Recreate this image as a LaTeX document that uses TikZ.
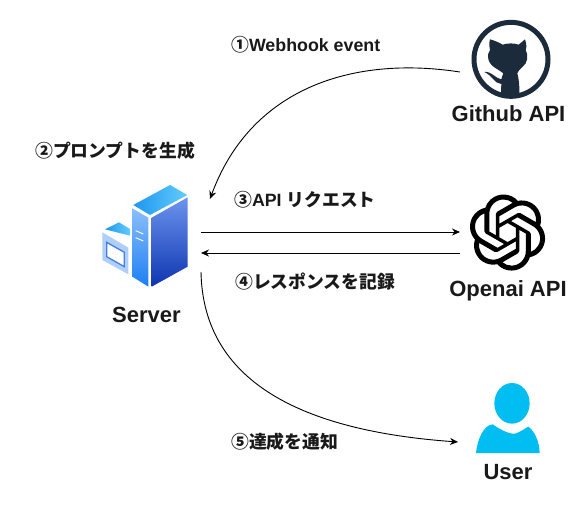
\documentclass[tikz,border=0pt]{standalone}
\usepackage{fontspec}
\setmainfont{Liberation Sans}
\newfontfamily\jpfont{Noto Sans CJK JP}
\usetikzlibrary{svg.path,arrows.meta}
\definecolor{ghdark}{HTML}{1B2B3C}
\definecolor{userblue}{HTML}{00BEF2}
\definecolor{srvtopa}{HTML}{1E96F0}
\definecolor{srvtopb}{HTML}{62CCFB}
\definecolor{srvfronta}{HTML}{8CBEFA}
\definecolor{srvfrontb}{HTML}{1C7FF5}
\definecolor{srvsidea}{HTML}{6C94EE}
\definecolor{srvsideb}{HTML}{0E35B0}
\definecolor{srvsmall}{HTML}{AFCFF8}
\definecolor{srvframe}{HTML}{3F7FE8}
\tikzset{
  iconbox/.style={inner sep=0pt, outer sep=0pt},
  namelabel/.style={font=\bfseries\fontsize{22}{26}\selectfont, text=black!90},
  steplabel/.style={font=\bfseries\fontsize{17.8}{20}\selectfont, text=black!90, inner sep=0pt},
  link/.style={line width=0.9pt, -{Stealth[length=8pt,width=7pt]}},
}
\begin{document}
\begin{tikzpicture}[x=1pt,y=-1pt]
\useasboundingbox (0,0) rectangle (587,506);

\node[iconbox, minimum width=101pt, minimum height=59pt] (server) at (150.5,242.5) {};
\node[iconbox, minimum width=102pt, minimum height=80pt] (github) at (511,60) {};
\node[iconbox, minimum width=95pt, minimum height=80pt] (openai) at (507.5,242.5) {};
\node[iconbox, minimum width=100pt, minimum height=70pt] (user) at (508,425) {};
\coordinate (srvin) at (210,199);

% github
\begin{scope}[shift={(440,10)},scale=1/3]
\draw[ghdark, line width=5pt] (213,148) circle (111);
\fill[ghdark] (150,88) .. controls (165,92) and (178,98) .. (188,104) .. controls (203,99) and (222,99) .. (236,104)
  .. controls (244,98) and (250,92) .. (255,88) .. controls (260,103) and (260,113) .. (257,120)
  .. controls (266,135) and (264,160) .. (246,172) .. controls (240,178) and (234,182) .. (232,190)
  .. controls (236,205) and (239,225) .. (238,255) -- (183,255)
  .. controls (184,240) and (183,230) .. (184,222) .. controls (165,222) and (155,195) .. (133,186)
  .. controls (155,183) and (165,205) .. (184,208) .. controls (186,200) and (188,195) .. (190,190)
  .. controls (182,184) and (176,180) .. (166,174) .. controls (143,160) and (138,135) .. (150,120)
  .. controls (147,110) and (147,100) .. (150,88) -- cycle;
\end{scope}

% openai
\begin{scope}[shift={(469.5,194.5)},scale=3.17,yscale=-1]
\fill[black, even odd rule] (0,0) svg {M 22.2819 9.8211 a 5.9847 5.9847 0 0 0 -.5157 -4.9108 a 6.0462 6.0462 0 0 0 -6.5098 -2.9 A 6.0651 6.0651 0 0 0 4.9807 4.1818 a 5.9847 5.9847 0 0 0 -3.9977 2.9 a 6.0462 6.0462 0 0 0 .7427 7.0966 a 5.98 5.98 0 0 0 .511 4.9107 a 6.051 6.051 0 0 0 6.5146 2.9001 A 5.9847 5.9847 0 0 0 13.2599 24 a 6.0557 6.0557 0 0 0 5.7718 -4.2058 a 5.9894 5.9894 0 0 0 3.9977 -2.9001 a 6.0557 6.0557 0 0 0 -.7475 -7.0729 z
M 13.2599 22.4292 a 4.4755 4.4755 0 0 1 -2.8764 -1.0408 l .1419 -.0804 l 4.7783 -2.7582 a .7948 .7948 0 0 0 .3927 -.6813 v -6.7369 l 2.02 1.1686 l .038 .052 v 5.5826 a 4.504 4.504 0 0 1 -4.4945 4.4944 z
M 3.5992 18.3038 a 4.4708 4.4708 0 0 1 -.5346 -3.0137 l .142 .0852 l 4.783 2.7582 a .7712 .7712 0 0 0 .7806 0 l 5.8428 -3.3685 v 2.3324 l -.0332 .0615 L 9.74 19.9502 a 4.4992 4.4992 0 0 1 -6.1408 -1.6464 z
M 2.3408 7.8956 a 4.485 4.485 0 0 1 2.3655 -1.9728 V 11.6 a .7664 .7664 0 0 0 .3879 .6765 l 5.8144 3.3543 l -2.0201 1.1685 l -.071 0 l -4.8303 -2.7865 A 4.504 4.504 0 0 1 2.3408 7.872 z
M 18.9371 11.7514 L 13.1038 8.364 L 15.1192 7.2 l .071 0 l 4.8303 2.7913 a 4.4944 4.4944 0 0 1 -.6765 8.1042 v -5.6772 a .79 .79 0 0 0 -.407 -.667 z
M 20.9478 8.7283 l -.142 -.0852 l -4.7735 -2.7818 a .7759 .7759 0 0 0 -.7854 0 L 9.409 9.2297 V 6.8974 l .0284 -.0615 l 4.8303 -2.7866 a 4.4992 4.4992 0 0 1 6.6802 4.66 z
M 8.3065 12.863 l -2.02 -1.1638 l -.038 -.0567 V 6.0742 a 4.4992 4.4992 0 0 1 7.3757 -3.4537 l -.142 .0805 L 8.704 5.459 a .7948 .7948 0 0 0 -.3927 .6813 z
M 9.4041 10.4976 l 2.602 -1.4998 l 2.6069 1.4998 v 2.9994 l -2.5974 1.4997 l -2.6067 -1.4997 z};
\end{scope}

% user
\begin{scope}[shift={(440,375)},scale=1/3]
\fill[userblue] (216,85) ellipse (53 and 61);
\fill[userblue] (108,234) .. controls (112,195) and (130,150) .. (158,148) .. controls (175,160) and (205,178) .. (225,176)
  .. controls (240,172) and (255,160) .. (265,155) .. controls (285,170) and (298,200) .. (299,234) -- cycle;
\end{scope}

% server
\begin{scope}[shift={(90,170)},scale=1/3]
\shade[left color=srvtopa, right color=srvtopb] (45,178) -- (87,157) -- (120,177) -- (120,197) -- cycle;
\fill[srvsmall] (37,187) -- (115,233) -- (115,313) -- (37,270) -- cycle;
\fill[white] (50,217) -- (103,247) -- (103,290) -- (50,260) -- cycle;
\draw[srvframe, line width=1.3pt] (50,217) -- (103,247) -- (103,290) -- (50,260) -- cycle;
\shade[left color=srvtopa, right color=srvtopb] (130,105) -- (240,45) -- (292,75) -- (180,135) -- cycle;
\shade[top color=srvfronta, bottom color=srvfrontb] (127,115) -- (175,143) -- (175,350) -- (127,320) -- cycle;
\shade[top color=srvsidea, bottom color=srvsideb] (185,143) -- (293,82) -- (293,290) -- (185,350) -- cycle;
\draw[white, line width=0.9pt] (137,182) -- (160,192) (137,203) -- (160,213);
\end{scope}

\node[namelabel] (githublabel) at (508.5,114) {Github API};
\node[namelabel] (openailabel) at (508,291) {Openai API};
\node[namelabel] (userlabel) at (508,472) {User};
\node[namelabel] (serverlabel) at (146.5,315) {Server};

\node[steplabel, anchor=west] (step1) at (231,45) {{\jpfont ①}Webhook event};
\node[steplabel, anchor=west] (step2) at (35,151) {{\jpfont ②プロンプトを生成}};
\node[steplabel, anchor=west] (step3) at (234,200) {{\jpfont ③}API {\jpfont リクエスト}};
\node[steplabel, anchor=west] (step4) at (235,282) {{\jpfont ④レスポンスを記録}};
\node[steplabel, anchor=west] (step5) at (231,442) {{\jpfont ⑤達成を通知}};

\path[draw,link] ([yshift=-12pt]github.west) .. controls (350,55) and (250,90) .. (srvin);
\path[draw,link] ([yshift=10.5pt]server.east) -- ([yshift=10.5pt]openai.west);
\path[draw,link] ([yshift=-10.5pt]openai.west) -- ([yshift=-10.5pt]server.east);
\path[draw,link] (server.south east) .. controls (203,375) and (290,430) .. ([yshift=-17pt]user.west);
\end{tikzpicture}
\end{document}
